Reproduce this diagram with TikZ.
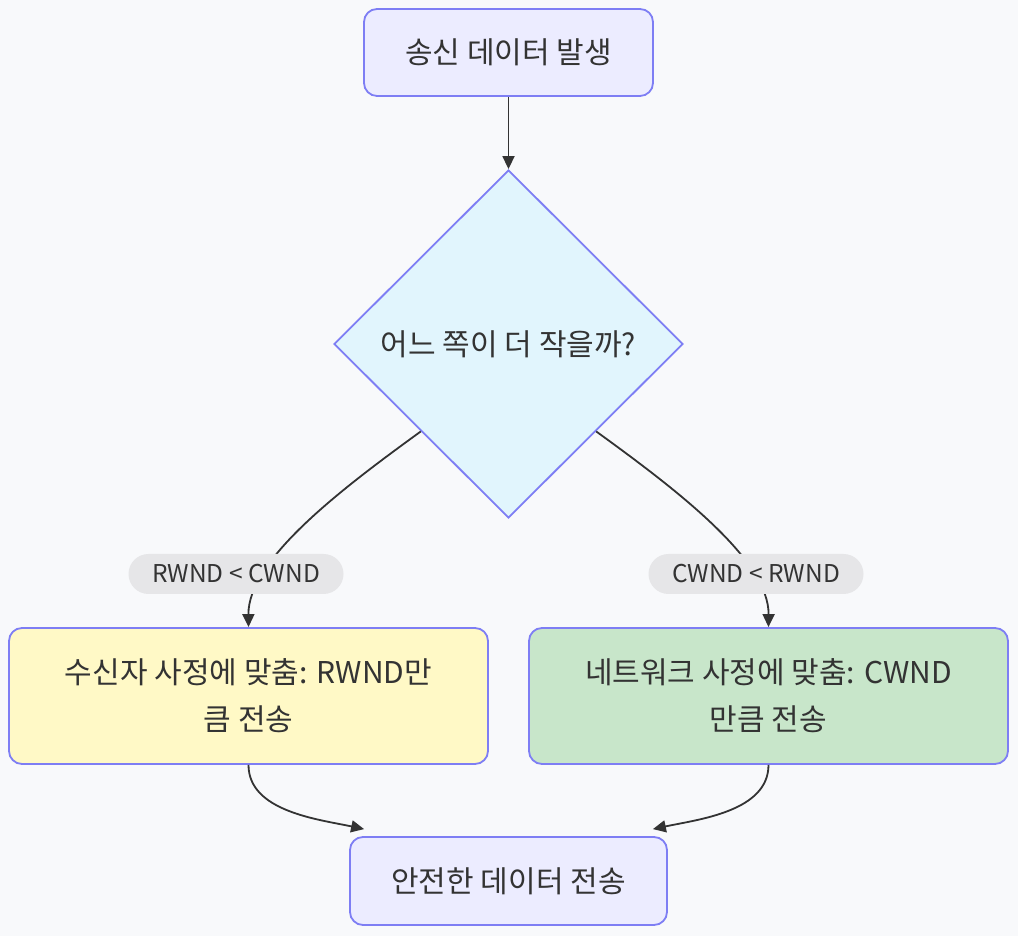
\documentclass[tikz,border=0pt]{standalone}
\usepackage{fontspec}
\setmainfont{Noto Sans CJK KR}
\usetikzlibrary{shapes.geometric,arrows.meta,calc}
\definecolor{bg}{HTML}{F8F9FB}
\definecolor{nodestroke}{HTML}{7E7EF4}
\definecolor{mainfill}{HTML}{ECECFF}
\definecolor{decfill}{HTML}{E1F5FD}
\definecolor{yellowfill}{HTML}{FFF9C6}
\definecolor{greenfill}{HTML}{C8E6CA}
\definecolor{labelfill}{HTML}{E6E6E8}
\definecolor{ink}{HTML}{333333}
\begin{document}
\begin{tikzpicture}[x=1pt,y=1pt,
  box/.style={draw=nodestroke,line width=1.8pt,rounded corners=13pt,align=center,
    text=ink,font=\fontsize{30}{47}\selectfont,inner sep=0pt},
  decision/.style={diamond,draw=nodestroke,fill=decfill,line width=1.8pt,
    text=ink,font=\fontsize{30}{36}\selectfont,inner sep=0pt,
    minimum width=349pt,minimum height=348pt,aspect=1},
  elabel/.style={fill=labelfill,rounded corners=20pt,minimum width=215pt,minimum height=40pt,
    inner sep=0pt,text=ink,font=\fontsize{24.5}{28}\selectfont},
  conn/.style={draw=ink,line width=1.8pt,-{Triangle[length=13pt,width=12pt]}}]
\fill[bg] (0,0) rectangle (1018,936);
\useasboundingbox (0,0) rectangle (1018,936);
\node[box,fill=mainfill,minimum width=289pt,minimum height=87pt] (start) at (508.5,883.5) {송신 데이터 발생};
\node[decision] (dec) at (508.5,592) {어느 쪽이 더 작을까?};
\node[box,fill=yellowfill,minimum width=479pt,minimum height=136pt] (left) at (248.5,240) {수신자 사정에 맞춤: RWND만\\큼 전송};
\node[box,fill=greenfill,minimum width=479pt,minimum height=136pt] (right) at (768.5,240) {네트워크 사정에 맞춤: CWND\\만큼 전송};
\node[box,fill=mainfill,minimum width=317pt,minimum height=88pt] (end) at (508.5,55) {안전한 데이터 전송};
\coordinate (endL) at ($(end.north west)+(15,7)$);
\coordinate (endR) at ($(end.north east)+(-15,7)$);
\draw[conn] (start) -- (dec);
\draw[conn] (dec.south west) .. controls (340,446) and (248,376) .. (left.north);
\draw[conn] (dec.south east) .. controls (677,446) and (769,376) .. (right.north);
\draw[conn] (left.south) to[out=-90,in=168,looseness=0.9] (endL);
\draw[conn] (right.south) to[out=-90,in=12,looseness=0.9] (endR);
\node[elabel] (lab1) at (236,362) {RWND < CWND};
\node[elabel] (lab2) at (756,362) {CWND < RWND};
\end{tikzpicture}
\end{document}
